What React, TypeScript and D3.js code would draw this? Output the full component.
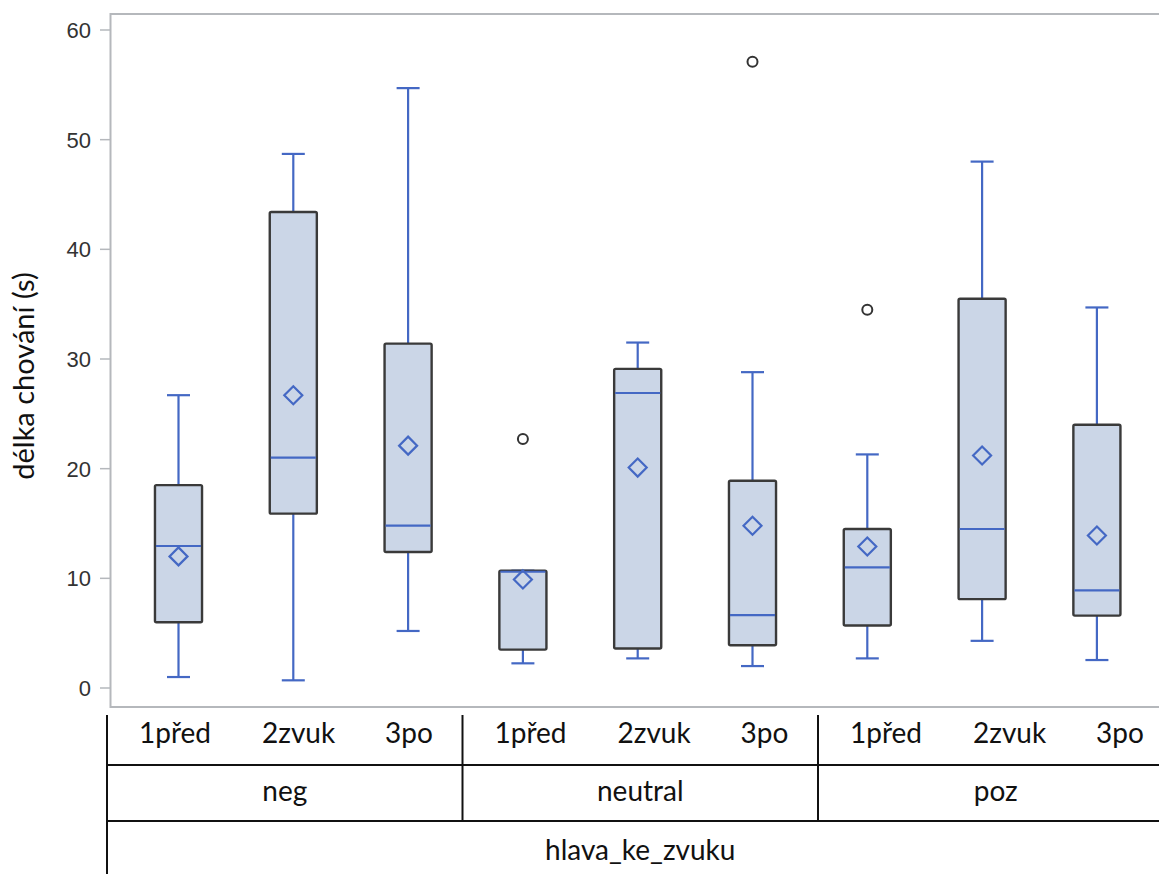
import React from "react";
import * as d3 from "d3";

const groups = ["neg", "neutral", "poz"];
const phases = ["1před", "2zvuk", "3po"];
const categories = groups.flatMap((g) => phases.map((p) => `${g}|${p}`));

// per box: [whiskerLow, Q1, median, Q3, whiskerHigh]
const lows = [1.0, 0.7, 5.2, 2.25, 2.7, 2.0, 2.7, 4.3, 2.55];
const q1s = [6.0, 15.9, 12.4, 3.5, 3.6, 3.9, 5.7, 8.1, 6.6];
const medians = [12.95, 21.0, 14.8, 10.6, 26.9, 6.65, 11.0, 14.5, 8.9];
const q3s = [18.5, 43.4, 31.4, 10.7, 29.1, 18.9, 14.5, 35.5, 24.0];
const highs = [26.7, 48.7, 54.7, 10.7, 31.5, 28.8, 21.3, 48.0, 34.7];
const means = [12.0, 26.7, 22.1, 9.9, 20.1, 14.8, 12.9, 21.2, 13.9];
const outliers: number[][] = [[], [], [], [22.7], [], [57.1], [34.5], [], []];

const yTicks = [0, 10, 20, 30, 40, 50, 60];
const yTitle = "délka chování (s)";
const xTitle = "hlava_ke_zvuku";

const W = 1159;
const H = 874;

export default function App() {
  const y = d3.scaleLinear().domain([0, 60]).range([688, 30]);
  const x = d3.scaleBand().domain(categories).range([121.1, 1154.3]).padding(0);
  const bw = x.bandwidth() * 0.41;
  const capW = 23;

  const plotLeft = 110.5;
  const plotTop = 14;
  const plotBottom = 707;
  const plotRight = 1180;

  const blue = "#4468c4";
  const boxStroke = "#3a3a3a";
  const boxFill = "#cbd6e7";
  const frame = "#b5b8bc";

  // table layout
  const tLeft = 107;
  const groupW = 355.5;
  const tableTop = 715;
  const row1 = 765;
  const row2 = 821;
  const tableFont = "Lato, 'Open Sans', sans-serif";

  const diamond = (cx: number, cy: number, r: number) =>
    `M${cx},${cy - r}L${cx + r},${cy}L${cx},${cy + r}L${cx - r},${cy}Z`;

  return (
    <svg
      width={W}
      height={H}
      style={{ position: "absolute", left: 0, top: 0, background: "#fff" }}
    >
      <rect x={0} y={0} width={W} height={H} fill="#fff" />
      {/* frame */}
      <rect
        x={plotLeft}
        y={plotTop}
        width={plotRight - plotLeft}
        height={plotBottom - plotTop}
        fill="none"
        stroke={frame}
        strokeWidth={2}
      />
      {/* y axis ticks */}
      {yTicks.map((t) => (
        <g key={t}>
          <line x1={100} x2={plotLeft} y1={y(t)} y2={y(t)} stroke={frame} strokeWidth={1.5} />
          <text
            x={91}
            y={y(t)}
            dy="0.36em"
            textAnchor="end"
            fontFamily="'Liberation Sans', Arial, sans-serif"
            fontSize={22}
            fill="#333"
          >
            {t}
          </text>
        </g>
      ))}
      <text
        transform={`translate(34,${376}) rotate(-90)`}
        textAnchor="middle"
        fontFamily={tableFont}
        fontSize={29}
        fill="#111"
      >
        {yTitle}
      </text>

      {/* boxes */}
      {categories.map((c, i) => {
        const cx = (x(c) as number) + x.bandwidth() / 2;
        return (
          <g key={c}>
            <line x1={cx} x2={cx} y1={y(highs[i])} y2={y(q3s[i])} stroke={blue} strokeWidth={2.2} />
            <line x1={cx} x2={cx} y1={y(q1s[i])} y2={y(lows[i])} stroke={blue} strokeWidth={2.2} />
            <line x1={cx - capW / 2} x2={cx + capW / 2} y1={y(highs[i])} y2={y(highs[i])} stroke={blue} strokeWidth={2.2} />
            <line x1={cx - capW / 2} x2={cx + capW / 2} y1={y(lows[i])} y2={y(lows[i])} stroke={blue} strokeWidth={2.2} />
            <rect
              x={cx - bw / 2}
              y={y(q3s[i])}
              width={bw}
              height={y(q1s[i]) - y(q3s[i])}
              fill={boxFill}
              stroke={boxStroke}
              strokeWidth={2.4}
              rx={1.5}
            />
            <line x1={cx - bw / 2 + 1} x2={cx + bw / 2 - 1} y1={y(medians[i])} y2={y(medians[i])} stroke={blue} strokeWidth={2.2} />
            <path d={diamond(cx, y(means[i]), 9)} fill="none" stroke={blue} strokeWidth={2.2} />
            {outliers[i].map((o, k) => (
              <circle key={k} cx={cx} cy={y(o)} r={5} fill="none" stroke="#333" strokeWidth={2} />
            ))}
          </g>
        );
      })}

      {/* table */}
      <g stroke="#111" strokeWidth={2}>
        <line x1={tLeft} x2={tLeft} y1={tableTop} y2={H} />
        <line x1={tLeft} x2={W + 20} y1={row1} y2={row1} />
        <line x1={tLeft} x2={W + 20} y1={row2} y2={row2} />
        {groups.map((g, gi) =>
          gi > 0 ? (
            <line key={g} x1={tLeft + gi * groupW} x2={tLeft + gi * groupW} y1={tableTop} y2={row2} />
          ) : null
        )}
      </g>
      {groups.map((g, gi) => (
        <g key={g}>
          {phases.map((p, pi) => (
            <text
              key={p}
              x={tLeft + gi * groupW + 32 + pi * 123}
              y={743}
              fontFamily={tableFont}
              fontSize={28}
              fill="#111"
            >
              {p}
            </text>
          ))}
          <text
            x={tLeft + gi * groupW + groupW / 2}
            y={801}
            textAnchor="middle"
            fontFamily={tableFont}
            fontSize={28}
            fill="#111"
          >
            {g}
          </text>
        </g>
      ))}
      <text
        x={tLeft + (groupW * 3) / 2}
        y={860}
        textAnchor="middle"
        fontFamily={tableFont}
        fontSize={28}
        fill="#111"
      >
        {xTitle}
      </text>
    </svg>
  );
}
